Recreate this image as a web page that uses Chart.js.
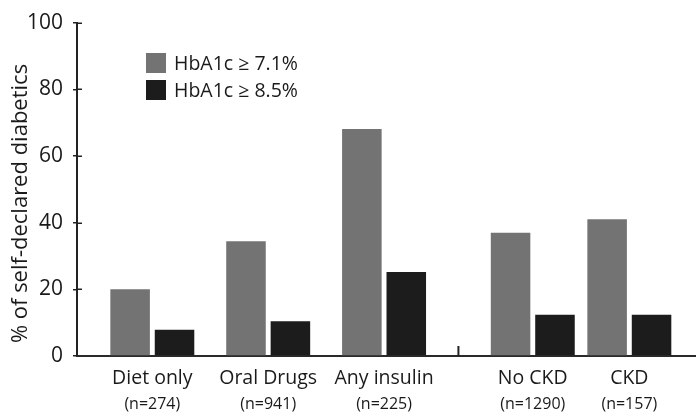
<!DOCTYPE html>
<html>
<head>
<meta charset="utf-8">
<script src="https://cdn.jsdelivr.net/npm/chart.js@4"></script>
<style>
  html, body { margin: 0; padding: 0; background: #fff; }
  #wrap { width: 697px; height: 415px; }
</style>
</head>
<body>
<div id="wrap"><canvas id="c" width="697" height="415"></canvas></div>
<script>
// ---- data ----
const categories = ['Diet only', 'Oral Drugs', 'Any insulin', 'No CKD', 'CKD'];
const sampleSizes = ['(n=274)', '(n=941)', '(n=225)', '(n=1290)', '(n=157)'];
const seriesNames = ['HbA1c \u2265 7.1%', 'HbA1c \u2265 8.5%'];
const hba1cOver71 = [20.0, 34.4, 68.1, 37.0, 41.0];
const hba1cOver85 = [7.9, 10.4, 25.2, 12.4, 12.4];
const yTickValues = [0, 20, 40, 60, 80, 100];
const yTitle = '% of self-declared diabetics';

// ---- layout (slot positions along the x axis, separating the two groups) ----
const slotPos = [3.9, 9.9, 15.9, 23.6, 28.6];
const groupDivider = 19.75;
const FONT = '"Open Sans", "Noto Sans", sans-serif';
const INK = '#1a1a1a';
const GREY = '#737373';
const BLACK = '#1c1c1c';

function toPoints(vals) { return vals.map((v, i) => ({ x: slotPos[i], y: v })); }
function setTicks(scale) { scale.ticks = slotPos.map(v => ({ value: v })); }

const extras = {
  id: 'extras',
  afterDraw(chart) {
    const ctx = chart.ctx;
    const x = chart.scales.x, y = chart.scales.y;
    ctx.save();
    // inner halves of y tick marks
    ctx.strokeStyle = '#222';
    ctx.lineWidth = 1.5;
    yTickValues.forEach(v => {
      if (v === 0) return;
      const py = Math.round(y.getPixelForValue(v)) + 0.25;
      ctx.beginPath();
      ctx.moveTo(chart.chartArea.left, py);
      ctx.lineTo(chart.chartArea.left + 5, py);
      ctx.stroke();
    });
    // divider tick between groups
    const dx = x.getPixelForValue(groupDivider);
    ctx.lineWidth = 2;
    ctx.beginPath();
    ctx.moveTo(dx, chart.chartArea.bottom);
    ctx.lineTo(dx, chart.chartArea.bottom - 10);
    ctx.stroke();
    // legend
    const ds = chart.data.datasets;
    ctx.font = '19.5px ' + FONT;
    ctx.textBaseline = 'middle';
    ctx.textAlign = 'left';
    ds.forEach((d, i) => {
      const top = 53 + i * 27;
      ctx.fillStyle = d.backgroundColor;
      ctx.fillRect(146, top, 20, 20);
      ctx.fillStyle = INK;
      ctx.fillText(d.label, 174, top + 11);
    });
    // y axis title
    ctx.translate(27, 203.5);
    ctx.rotate(-Math.PI / 2);
    ctx.font = '22px ' + FONT;
    ctx.textAlign = 'center';
    ctx.textBaseline = 'alphabetic';
    ctx.fillStyle = INK;
    ctx.fillText(yTitle, 0, 0);
    ctx.restore();
  }
};

new Chart(document.getElementById('c'), {
  type: 'bar',
  data: {
    datasets: [
      { label: seriesNames[0], data: toPoints(hba1cOver71), backgroundColor: GREY, borderWidth: 0 },
      { label: seriesNames[1], data: toPoints(hba1cOver85), backgroundColor: BLACK, borderWidth: 0 }
    ]
  },
  options: {
    responsive: false,
    animation: false,
    devicePixelRatio: 1,
    categoryPercentage: 0.92,
    barPercentage: 0.89,
    layout: { padding: { top: 13, right: 2, left: 0, bottom: 0 } },
    plugins: { legend: { display: false }, tooltip: { enabled: false } },
    scales: {
      x: {
        type: 'linear',
        min: 0, max: 32,
        offset: false,
        afterBuildTicks: setTicks,
        afterFit: s => { s.height = 36; },
        grid: { display: false, drawTicks: false },
        border: { display: true, color: '#2a2a2a', width: 2 },
        ticks: {
          autoSkip: false, maxRotation: 0, padding: 11,
          color: INK, font: { family: FONT, size: 19.5 },
          callback: (v, i) => categories[i]
        }
      },
      x2: {
        type: 'linear',
        position: 'bottom',
        min: 0, max: 32,
        offset: false,
        afterBuildTicks: setTicks,
        afterFit: s => { s.height = 23; },
        grid: { display: false, drawTicks: false },
        border: { display: false },
        ticks: {
          autoSkip: false, maxRotation: 0, padding: 3,
          color: INK, font: { family: FONT, size: 16 },
          callback: (v, i) => sampleSizes[i]
        }
      },
      y: {
        min: 0, max: 100,
        afterBuildTicks: s => { s.ticks = yTickValues.map(v => ({ value: v })); },
        afterFit: s => { s.width = 77; },
        grid: { drawOnChartArea: false, drawTicks: true, tickLength: 4, color: '#222', lineWidth: 1.5 },
        border: { display: true, color: '#222', width: 2 },
        ticks: { padding: 10, color: INK, font: { family: FONT, size: 21 } }
      }
    }
  },
  plugins: [extras]
});
</script>
</body>
</html>
